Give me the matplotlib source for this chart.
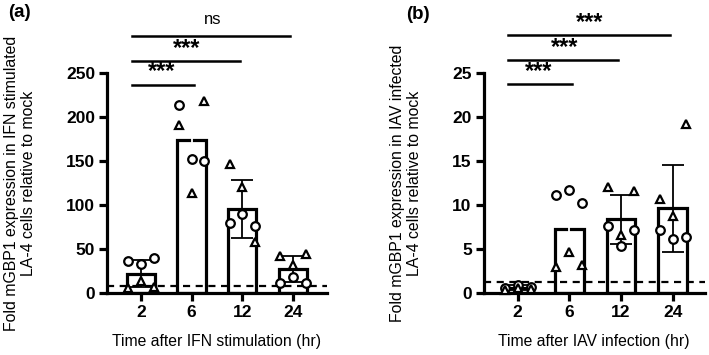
import numpy as np
import matplotlib
matplotlib.use("Agg")
import matplotlib.pyplot as plt

plt.rcParams['font.family'] = ['Liberation Sans', 'DejaVu Sans']

# ---- data -------------------------------------------------------------
times = ['2', '6', '12', '24']

# panel a: IFN stimulation (circles / triangles = two experiments)
ifn_circles = [[36, 33, 40], [214, 152, 150], [80, 90, 76], [11, 18, 11]]
ifn_triangles = [[6, 13, 7], [191, 114, 218], [147, 121, 58], [42, 32, 44]]
ifn_means = [22, 174, 95, 27]
ifn_sd = [15.5, 40, 33, 15]
ifn_cutoff = 7.6

# panel b: IAV infection
iav_circles = [[0.6, 0.9, 0.7], [11.1, 11.7, 10.2], [7.6, 5.3, 7.1], [7.1, 6.1, 6.4]]
iav_triangles = [[0.3, 0.5, 0.4], [3.0, 4.6, 3.2], [12.0, 6.6, 11.6], [10.7, 8.7, 19.2]]
iav_means = [0.6, 7.3, 8.35, 9.65]
iav_sd = [0.25, 3.8, 2.75, 4.95]
iav_cutoff = 1.2

ifn_sig = ['***', '***', 'ns']
iav_sig = ['***', '***', '***']

# jitter (layout only)
circ_jit = [-0.25, 0.0, 0.25]
tri_jit = [-0.25, 0.0, 0.25]

LW = 2.3
fig = plt.figure(figsize=(7.09, 3.55), dpi=100)


def panel(rect, means, sd, circles, triangles, cutoff, ylim, yticks, sig,
          sig_y, ylabel, xlabel, xlim, tag, tagpos, white_err):
    ax = fig.add_axes(rect)
    x = np.arange(len(times))
    ax.bar(x, means, width=0.56, color='white', edgecolor='black',
           linewidth=LW, zorder=2)
    for i in range(len(times)):
        col = 'white' if i == white_err else 'black'
        ax.errorbar(x[i], means[i], yerr=sd[i], color=col, capsize=8,
                    elinewidth=1.3, capthick=1.3, zorder=3)
    for i in range(len(times)):
        ax.plot(x[i] + np.array(circ_jit), circles[i], 'o', ms=6.2,
                mfc='white', mec='black', mew=1.6, zorder=5, clip_on=False)
        ax.plot(x[i] + np.array(tri_jit), triangles[i], '^', ms=6.2,
                mfc='white', mec='black', mew=1.6, zorder=5, clip_on=False)
    ax.axhline(cutoff, color='black', ls=(0, (3.2, 2.5)), lw=1.6, zorder=4)
    ax.set_xlim(*xlim)
    ax.set_ylim(*ylim)
    ax.set_yticks(yticks)
    ax.set_xticks(x)
    ax.set_xticklabels(times)
    for s in ['top', 'right']:
        ax.spines[s].set_visible(False)
    for s in ['left', 'bottom']:
        ax.spines[s].set_linewidth(LW)
    ax.tick_params(width=LW, length=5.5, labelsize=12.5, pad=3)
    for t in ax.get_xticklabels() + ax.get_yticklabels():
        t.set_fontweight('bold')
    ax.set_ylabel(ylabel, fontsize=11.4, labelpad=22, linespacing=1.1)
    ax.set_xlabel(xlabel, fontsize=11.3, labelpad=10)
    ends = [1, 2, 3]
    for k, j in enumerate(ends):
        y = sig_y[k]
        ax.plot([-0.18, j - 0.05 + 0.1 * (k == 0)], [y, y], color='black',
                lw=1.8, clip_on=False)
        if sig[k] == 'ns':
            ax.text((j - 0.2) / 2 + 0.02, y + ylim[1] * 0.04, sig[k],
                    ha='center', va='bottom', clip_on=False, fontsize=12)
        else:
            ax.text((j - 0.2) / 2, y + ylim[1] * 0.005, sig[k],
                    ha='center', va='bottom', clip_on=False,
                    fontsize=17, fontweight='bold')
    fig.text(tagpos[0], tagpos[1], tag, fontsize=13.5, fontweight='bold',
             ha='left', va='center')
    return ax


panel([0.151, 0.175, 0.31, 0.619], ifn_means, ifn_sd, ifn_circles,
      ifn_triangles, ifn_cutoff, (0, 250), [0, 50, 100, 150, 200, 250],
      ifn_sig, [237, 264, 292],
      'Fold mGBP1 expression in IFN stimulated\nLA-4 cells relative to mock',
      'Time after IFN stimulation (hr)', (-0.67, 3.67), '(a)', (0.012, 0.966), 1)

panel([0.682, 0.175, 0.312, 0.619], iav_means, iav_sd, iav_circles,
      iav_triangles, iav_cutoff, (0, 25), [0, 5, 10, 15, 20, 25],
      iav_sig, [23.8, 26.5, 29.3],
      'Fold mGBP1 expression in IAV infected\nLA-4 cells relative to mock',
      'Time after IAV infection (hr)', (-0.66, 3.62), '(b)', (0.573, 0.958), 1)

fig.savefig('out.png', dpi=100)
